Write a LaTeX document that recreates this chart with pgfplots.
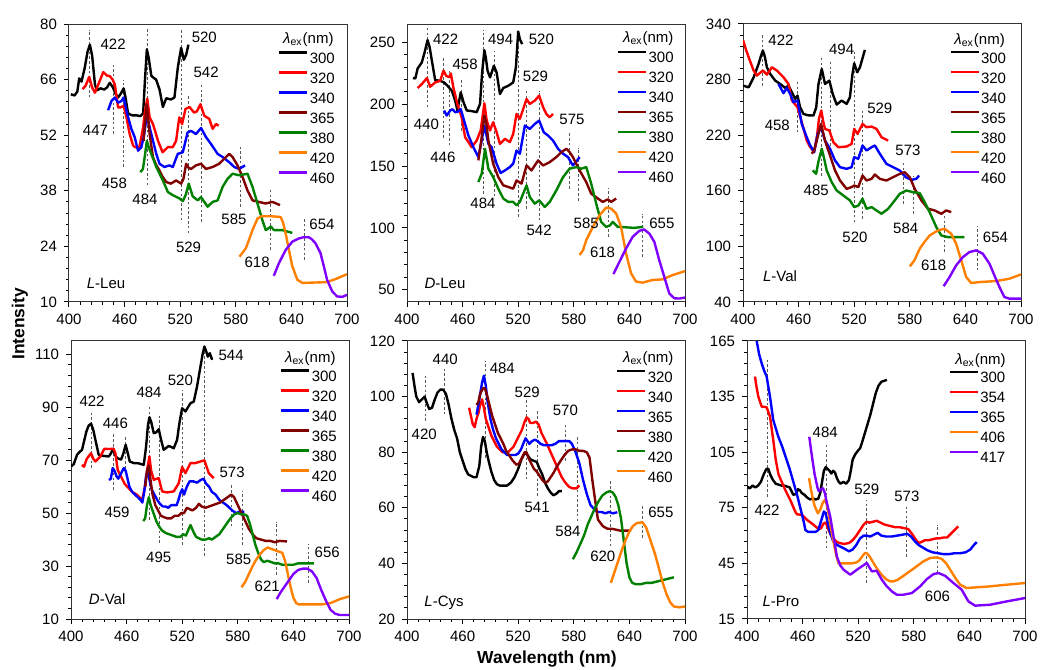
\documentclass[border=0pt]{standalone}
\usepackage{fontspec}
\setmainfont{Liberation Sans}
\usepackage{pgfplots}
\pgfplotsset{compat=1.18}

\definecolor{cred}{HTML}{FF0000}
\definecolor{cblue}{HTML}{0000FF}
\definecolor{cbrown}{HTML}{800000}
\definecolor{cgreen}{HTML}{008000}
\definecolor{corange}{HTML}{FF8000}
\definecolor{cpurple}{HTML}{8000FF}

\newcommand\fs{\fontsize{7.5}{9}\selectfont}

\pgfplotsset{
  panel/.style={
    scale only axis, width=139pt, height=139pt,
    xmin=400, xmax=700, xtick={400,460,...,700},
    minor x tick num=4, minor y tick num=4,
    tick align=outside, tick pos=left,
    major tick length=2.5pt, minor tick length=1.4pt,
    every tick/.style={black, line width=0.5pt},
    axis line style={black!80, line width=0.5pt},
    tick label style={font=\fs},
    /pgf/number format/assume math mode=true,
    /pgf/number format/1000 sep={},
    legend style={draw=none, fill=none, font=\fs, anchor=north east,
      inner sep=0pt, row sep=3.2pt, cells={anchor=west},
      nodes={inner sep=0.6pt, text height=5.6pt, text depth=0pt}},
    legend image code/.code={\draw[##1, line width=1.2pt] (0pt,2.8pt) -- (14pt,2.8pt);},
  },
  sp/.style={line width=1.2pt, line join=round},
  pk/.style={forget plot, gray!70!black, line width=0.45pt, dash pattern=on 1.3pt off 1.1pt},
}
\newcommand\pk[3]{\addplot[pk] coordinates {(#1,#2)(#1,#3)};}
\newcommand\lb[3]{\node[font=\fs, inner sep=0pt] at (axis cs:#1,#2) {#3};}
\newcommand\ttl[2]{\node[font=\fs, anchor=east, inner sep=0pt] at (rel axis cs:#1,#2) {\textit{λ}\textsubscript{ex}(nm)};}

\begin{document}
\begin{tikzpicture}
\useasboundingbox (0,0) rectangle (520pt,335pt);

% ---------------- L-Leu
\begin{axis}[panel, at={(34.5pt,184pt)}, anchor=south west,
  ymin=10, ymax=80, ytick={10,24,...,80}, legend style={at={(0.962,0.903)}}]
\pk{422.5}{61.5}{78.6}\pk{448}{52.3}{69.8}\pk{459}{44}{66}\pk{484.5}{39.4}{78.8}
\pk{521}{30.6}{78.8}\pk{529}{27.3}{61.9}\pk{542.5}{30.2}{64.8}\pk{585}{34}{49}
\pk{617.7}{23.1}{38.1}\pk{654}{20.6}{31.4}
\addplot[sp, black] coordinates {(402,62.3)(406,62)(409,63)(411,66.3)(413.5,65.5)(417,69)(420,73)(422.5,74.8)(425,72)(428,64.8)(430,63.3)(434,63.8)(438,63.5)(441,64)(444,65.2)(447.5,64)(450,62.5)(453,61.5)(456,62.5)(459,63.8)(461,61.5)(463.7,57.5)(468,57)(473,57)(477,56.8)(480,57.5)(482,66)(484,73.6)(486,71.5)(488.8,67)(491,66.5)(494,66)(497.7,63.5)(501.3,59.1)(504.9,61.3)(510,61)(513.8,61.5)(517.4,69)(521,74)(523.9,71)(526.4,72.2)(528.9,74.8)};
\addplot[sp, cred] coordinates {(414.7,63.6)(418,64.5)(421.8,66.7)(425,64)(428,62.7)(432,65)(437,67.9)(441,67)(444,66.9)(447,66)(449.4,64.8)(453,59)(455.5,59)(459,59.4)(462,56.5)(465.5,52.3)(469,49.5)(471,49)(476,49)(480,54)(482,58)(484.5,61.2)(487,56.5)(490.6,54.8)(493,53)(496,50.6)(501,47.7)(506.7,49)(512,49)(515.6,50.6)(519,56.5)(522,54.8)(525.7,58.6)(530,59.1)(535,57.7)(538,58)(541.8,59.8)(546,56.9)(551.4,56.1)(555,53.6)(558.6,54.8)(561.5,54.4)};
\addplot[sp, cblue] coordinates {(442.2,58.3)(445.8,60.6)(449.4,61.5)(453,60.2)(456.6,60.6)(459,61.5)(462,58.1)(467.3,53.6)(470.9,51.5)(474.5,48.1)(478,48.9)(481,52)(484,57)(486,55)(488.8,52.3)(494.2,47.3)(497.7,44.8)(503,44)(508.5,44.4)(512,44)(517.4,47.3)(522.8,47.7)(528,52.7)(531.7,53.1)(537,52.3)(542.5,53.8)(547.9,51.5)(553.2,49.8)(560.4,47.3)(565.8,46.5)(572.9,45.2)(578.3,44)(583.6,43.5)(590,44.4)};
\addplot[sp, cbrown] coordinates {(480.5,50.6)(482,55)(484,59.8)(487,52.3)(490.6,46.5)(494,44.5)(497.7,43.1)(501,41.5)(505,40.2)(510,39.8)(515.6,40.6)(521,39.8)(523.5,41)(526.4,44.8)(529,43.8)(531.7,43.5)(537,44.4)(542.5,44.8)(547.9,43.5)(555,44)(562,44.8)(569.4,46.5)(572.9,47.3)(576.5,46.5)(581.9,44.4)(587.2,41.5)(592.6,38.1)(598,35.6)(605,35.2)(612,34.8)(619.5,35.2)(627.7,34.4)};
\addplot[sp, cgreen] coordinates {(477,42.7)(479.8,43.5)(482,47)(484,50.6)(486,49)(488.8,47.3)(494.2,44)(501.3,40.6)(506.7,37.7)(512,36.9)(519,36.1)(522.8,35.4)(526,37)(529.2,39.8)(533.5,36.6)(538.9,35.6)(542.5,36.4)(549.6,34)(555,35.2)(560.4,35.6)(565.8,39)(571,41)(576.5,42.3)(583.6,41.9)(592.6,42.3)(598,39)(603.4,34.8)(608.7,30.6)(612.3,28.1)(615,28.5)(617.7,29)(621.2,28.1)(630.2,28.1)(641,27.4)};
\addplot[sp, corange] coordinates {(584,21.4)(590.8,23.5)(594,25.5)(598,28.1)(603.4,31)(608,31.6)(618,31.6)(628.4,31.4)(631,30)(633.8,27.3)(637,23.5)(641,19)(646.4,15.6)(652,14.8)(665,14.9)(678,15)(688,15.8)(700,17)};
\addplot[sp, cpurple] coordinates {(621,16.6)(626.6,19.8)(633.8,23.1)(641,25.2)(648,26)(653,26.3)(658.8,26.3)(662,25.8)(666,24.8)(671.4,22.3)(675,19)(678.5,15.6)(684,12.7)(689.3,11.4)(695,11.3)(700,11.8)};
\legend{300,320,340,365,380,420,460}
\lb{447.6}{75}{422}\lb{428.6}{53.1}{447}\lb{449}{40}{458}\lb{482}{35.8}{484}
\lb{546}{76.7}{520}\lb{529}{23.8}{529}\lb{548}{67.9}{542}\lb{578}{30.8}{585}
\lb{603}{20}{618}\lb{673}{29.5}{654}\lb{440}{14.8}{\textit{L}-Leu}
\ttl{0.953}{0.943}
\end{axis}

% ---------------- D-Leu
\begin{axis}[panel, at={(203.5pt,184pt)}, anchor=south west,
  ymin=40, ymax=265, ytick={50,100,...,250}, legend style={at={(0.965,0.906)}}]
\pk{422}{197.6}{261.6}\pk{439.4}{173}{238}\pk{446}{166.7}{228.5}\pk{458.4}{178.8}{220}
\pk{483}{127.7}{260}\pk{493.9}{125.5}{243}\pk{520}{108.9}{248.7}\pk{528.6}{115.6}{212}
\pk{542.6}{106}{211}\pk{574.8}{131.7}{177.4}\pk{584.8}{122}{165}\pk{617}{92.7}{132.5}
\pk{654.3}{76.6}{111.6}
\addplot[sp, black] coordinates {(406.4,221.2)(409,221)(411.5,229)(416,233.9)(419,242)(422.2,252)(424.5,246)(426.9,235)(430.4,219.6)(435.8,219)(440,217.7)(443.7,215)(448.4,211)(452,203)(454.4,195)(458,209.7)(461,201.6)(464.5,195)(470,194.5)(475.2,193.6)(478.8,200.3)(481,225)(483.5,243.8)(485,238)(487,227)(489.6,221.8)(493.8,231.2)(496.7,225.8)(500.3,208.3)(503.9,213.2)(509.3,215)(514.6,217.7)(517.5,229.8)(520,258.9)(521.8,252.7)(524.3,248.7)};
\addplot[sp, cred] coordinates {(411.5,213.2)(416,216.4)(421.5,221.2)(425,214.2)(430.4,217.7)(435.8,219)(439.4,227.2)(442.3,223)(445.8,222)(447.3,225)(450,213.7)(454.4,200.3)(459,189.5)(462.7,173.4)(466.3,169.4)(469.8,165.3)(475.2,170.7)(479.5,178.8)(483.5,200.8)(486,186.8)(489.6,178.8)(493,185.5)(496.7,177.4)(500.3,168)(505.7,172)(511,169.4)(514.6,176)(518.2,192.2)(521.8,188.2)(525.4,196.2)(529,204.3)(532.5,200.3)(537.9,203)(542.6,207)(546.9,197.6)(550.4,192.2)(554,189.5)(557.6,192.2)};
\addplot[sp, cblue] coordinates {(440,195)(442.9,190.9)(446.6,195)(449,196)(452,193.6)(455,194)(458,196.2)(461.6,186.8)(466.3,174.7)(471.6,165.3)(477,157.3)(480.6,170.7)(483.5,182.8)(487.8,168)(491.3,165.3)(496.7,151.9)(501,144.4)(505.7,146.5)(511,149.2)(514.6,151.9)(518.2,162.6)(521.8,160)(527.2,182.8)(532.5,180.1)(537.9,184.1)(542.6,186.8)(547.6,177.4)(552.2,174.7)(557.6,170.7)(563,164)(568.4,160)(573.7,157.3)(579,150.5)(583,154)(586.3,157.3)};
\addplot[sp, cbrown] coordinates {(477,154.6)(480,170)(483.5,190.9)(485.5,185)(487.8,170.7)(493,151.9)(498.5,141.1)(503.9,134.4)(509.3,133.1)(514.6,131.7)(518.2,138.4)(523.6,135.8)(529,150.5)(534.3,146.5)(541.5,154.6)(546.9,150.5)(554,153.2)(561.2,157.3)(566.6,161.3)(572,164)(575.5,161.3)(579,157.3)(586.3,146.5)(593.4,137.1)(598.8,127.7)(606,123.7)(611.3,121)(616.7,123.1)(620.3,121)(625.7,123.7)};
\addplot[sp, cgreen] coordinates {(477,137.1)(480.6,143.8)(484.2,164)(487.8,147.9)(493,141.1)(498.5,131.7)(503.9,123.7)(509.3,121)(514.6,121)(518.2,118.3)(521.8,121)(525,127)(529,134.4)(532.5,125)(537.9,119.6)(542.6,122.3)(548.7,116.9)(554,121)(561.2,130.4)(568.4,141.1)(575.5,147.9)(582.7,149.2)(588,147.9)(593.4,149.2)(598.8,135.8)(604.2,119.6)(609.5,104.8)(614.9,100.8)(619,102)(622,104.8)(627.5,100.8)(635,100.5)(645,100)(655,100.8)};
\addplot[sp, corange] coordinates {(586.3,78)(590,82)(593.4,90)(600.6,100.8)(607.8,110.2)(614.9,116.4)(620.3,115.6)(625.7,111.6)(631,100.8)(636.4,79.3)(641.8,63.2)(647.2,56.5)(654.3,55.7)(665,57.8)(675.8,58.3)(686.6,61.8)(700,65)};
\addplot[sp, cpurple] coordinates {(622.8,62.6)(629.3,72.6)(636.4,83.3)(643.6,92.8)(650.7,97.6)(656,98.7)(661.5,95.4)(666.9,88.7)(672.2,73.9)(677.6,60.5)(683,47)(688.4,43)(694,42.8)(700,43.6)};
\legend{300,320,340,365,380,420,460}
\lb{441.7}{252.7}{422}\lb{421}{184}{440}\lb{438.7}{157.3}{446}\lb{462.7}{232.5}{458}
\lb{482}{119.6}{484}\lb{501}{252.7}{494}\lb{545}{252.7}{520}\lb{538.6}{222.3}{529}
\lb{542.6}{97.6}{542}\lb{578}{188}{575}\lb{593.4}{104}{585}\lb{611}{80}{618}
\lb{675}{104}{655}\lb{441}{55}{\textit{D}-Leu}
\ttl{0.96}{0.948}
\end{axis}

% ---------------- L-Val
\begin{axis}[panel, at={(371.5pt,184pt)}, anchor=south west,
  ymin=40, ymax=340, ytick={40,100,...,340}, legend style={at={(0.952,0.905)}}]
\pk{421.5}{273.5}{329}\pk{458.8}{223}{277}\pk{485}{176.5}{306}\pk{494}{192.7}{298.7}
\pk{520}{126.2}{312}\pk{529}{129.8}{246.6}\pk{572.8}{146}{191}\pk{583.5}{135}{176.5}
\pk{617.5}{93.9}{135}\pk{653.4}{74}{121.5}
\addplot[sp, black] coordinates {(400,273.5)(406.1,271.7)(411.5,282.5)(416.8,296.9)(419.5,306)(421.5,311.3)(423.5,305)(425.8,293.3)(429.4,286.1)(434.8,278.9)(440.1,275.3)(445.5,271)(449.1,273.5)(452.7,266.3)(456.3,259.2)(458.8,262.7)(461.6,250.2)(465.2,243)(470,241.5)(476,241.2)(479,250)(481.4,275)(485,291.5)(488.5,275.3)(493.2,278.9)(496.8,264.5)(501.1,253)(506.4,257.4)(511.8,253.8)(515.4,261)(518,285)(520,297.6)(523.3,287.9)(526.2,293.3)(531.5,312)};
\addplot[sp, cred] coordinates {(400,322.8)(403,313)(406.1,304.1)(411.5,289.7)(415,284.3)(418,287)(421.5,289.7)(425.8,285.4)(431.2,293.3)(436.6,289.7)(443.7,282.5)(449.1,275.3)(452.7,257.4)(458.8,250.2)(463.4,234)(468.8,214.2)(472,208)(476.7,201.7)(480,220)(482,238)(484.5,246.6)(486.5,235)(488.5,226.8)(493.2,225)(497.5,212.4)(502.9,207)(511.8,207.8)(517.2,210.6)(520,226.8)(523.6,221.4)(529,232.2)(533.3,228.6)(538.7,229.3)(544,226.8)(549.5,217.8)(556.6,214.2)};
\addplot[sp, cblue] coordinates {(438.3,275.3)(443.7,265.3)(447.3,271)(450.9,264.5)(454.5,255.6)(458.8,257.4)(463.4,232.2)(468.8,217.8)(472,210)(476.7,201.7)(480.6,221.4)(484.2,228.6)(488.5,214.2)(493.9,205.3)(499.3,192.7)(504.7,185.5)(511.8,183.7)(517.2,185.5)(520,196.3)(524.4,194.5)(529,208.9)(533.3,203.5)(538.7,207)(542.3,208.9)(547.7,199.9)(554.8,189.1)(562,185.5)(569.2,181.9)(575.6,174.7)(581.7,171.8)(587,172.9)(590,176.5)};
\addplot[sp, cbrown] coordinates {(474.2,200)(477,204)(479.6,214.2)(484.2,232.2)(488.5,214.2)(493.9,198.1)(499.3,182)(504.7,171.1)(511.8,162.1)(517.2,164)(520,165.7)(524.4,164)(529,176.5)(533.3,171.1)(538.7,172.9)(542.3,177.6)(547.7,172.9)(554.8,171.1)(562,174.7)(569.2,178.3)(574.5,180.1)(579.9,174.7)(585.3,162.1)(592.5,149.6)(599.6,140.6)(606.8,138.8)(614,135.2)(619.3,138.8)(624.7,137)};
\addplot[sp, cgreen] coordinates {(475.3,182)(478.9,178.3)(481.5,192)(485,205.3)(487.5,195)(490.3,182)(495.7,169.3)(501.1,160.3)(508.2,155)(515.4,149.6)(520,142.4)(524.4,144)(529,151.4)(533.3,140.6)(538.7,142.4)(544,138.8)(549.5,135.2)(556.6,140.6)(563.8,149.6)(569.2,156.8)(576.3,160.3)(583.5,158.5)(590.7,157.5)(596,147.8)(601.4,137)(608.6,120.8)(614,111.8)(621.1,110)(630,110)(639,110)};
\addplot[sp, corange] coordinates {(580,78.4)(585,85)(590.7,97.5)(596,105)(601.4,111.8)(610.4,117.2)(617.5,119)(624.7,113.6)(630,102.9)(635.5,85)(640.8,67)(646.2,60.5)(655.2,61.5)(673.1,62.6)(687.5,65.1)(700,69.8)};
\addplot[sp, cpurple] coordinates {(616.5,57)(622.9,66.9)(630,79.5)(637.3,88.5)(644.4,93.9)(651.6,95.7)(658.8,92.1)(666,81.3)(671.3,68.7)(676.7,56.2)(682,45.4)(687.4,43.6)(700,43.6)};
\legend{300,320,340,365,380,420,460}
\lb{441}{322.8}{422}\lb{437}{230.4}{458}\lb{479}{160.3}{485}\lb{506.4}{312.3}{494}
\lb{520.8}{110}{520}\lb{547.6}{249.5}{529}\lb{578}{204.2}{573}\lb{575.6}{119}{584}
\lb{605.7}{80}{618}\lb{672.4}{110}{654}\lb{440}{67.7}{\textit{L}-Val}
\ttl{0.943}{0.942}
\end{axis}

% ---------------- D-Val
\begin{axis}[panel, at={(35.5pt,25.5pt)}, anchor=south west,
  ymin=10, ymax=115, ytick={10,30,...,110}, legend style={at={(0.962,0.9)}}]
\pk{421.6}{67}{88.4}\pk{445.4}{58.8}{80.2}\pk{459}{65}{79}\pk{484.2}{47.5}{90.9}
\pk{495}{38.7}{86.5}\pk{520}{38}{96.5}\pk{544.4}{33.9}{111}\pk{572.8}{45}{61.3}
\pk{585.4}{38}{58.2}\pk{622}{26.7}{46.8}\pk{656.7}{23.6}{38.4}
\addplot[sp, black] coordinates {(400,67.6)(403,68.5)(406.5,72)(409,73)(411.9,73.9)(414,77)(416.6,80.8)(419,83)(421.6,83.8)(424,81.5)(426.3,77.7)(429.9,72)(435.3,71.6)(440.7,71.4)(443,72.5)(445.4,74.3)(447.5,72)(449.7,70.8)(454,70.2)(456.5,72.5)(459,75.8)(461,73)(463.4,69.5)(467.7,68.9)(473,68.8)(478.5,68.2)(481,75)(483,83)(484.6,86.2)(486.5,84.5)(489.3,80.2)(492,80.5)(494.7,81.7)(497,78)(500,73.9)(505.5,75.4)(510.9,74.5)(514.5,77.7)(517,84)(519.9,89.6)(523.5,88.4)(528.9,91.5)(532.5,92.1)(536,97.8)(539.7,105.3)(542,110)(544,112.9)(546,111)(547.6,109.1)(549.8,110.4)(552.3,107.9)};
\addplot[sp, cred] coordinates {(411.9,68.2)(414,67.5)(417,70.5)(421.6,72.6)(424,70.5)(426.3,69.5)(431.7,71.4)(436,74.3)(440.7,74.2)(446,74.3)(448,72.5)(450.4,66.3)(454,63.8)(458,61)(462,59.5)(466,58)(471.3,56.9)(476.7,55)(480,60)(482.5,67)(484.6,71.4)(486.5,66)(489.3,62.6)(494.7,63.2)(498.3,58.2)(503.7,57.8)(510.9,58.2)(516.3,61.3)(519.9,67.4)(523.5,65.1)(528.9,68.9)(534.3,68.9)(539.7,69.5)(544,69.9)(548.7,65.1)(554,63.2)};
\addplot[sp, cblue] coordinates {(441,62.5)(443,63)(445,67)(447,66)(449,64)(451,63)(454,65)(457,67)(459,66)(461,63)(463,60)(466,58)(469,57)(472,56)(475,55)(477,54)(479,58)(481,64)(483,66)(485,62)(487,59)(490,57)(493,55)(496,53.5)(499,52.5)(502,52.5)(505,52)(508,53)(511,53)(514,53)(516,55)(518,57.5)(520,59)(522,57)(525,60)(528,62)(532,62)(536,61.5)(540,62.5)(543,63)(546,61)(549,60)(552,58)(556,57)(560,55)(564,54)(568,53)(571,52)(574,51)(578,50)(582,50.5)(587,50.5)};
\addplot[sp, cbrown] coordinates {(480,60)(482,66)(484,68)(486,62)(488,57)(491,53)(494,51)(497,49)(500,48.5)(504,48)(508,48)(512,49)(516,49)(519,50)(522,50)(525,52)(528,51.5)(531,51)(535,52)(538,53.5)(541,52.5)(545,52)(549,52.5)(553,53)(557,53.5)(561,54)(565,55)(569,56)(573,57)(576,56)(580,53)(584,50)(588,47)(592,44)(596,42)(600,40.5)(605,40)(610,39.5)(615,39.5)(620,39)(625,39.5)(633,39.3)};
\addplot[sp, cgreen] coordinates {(478,47)(480,48)(482,53)(484,56)(486,53)(489,50)(492,47)(495,45)(498,43.5)(502,42.5)(506,42)(510,41.5)(514,41)(518,41)(521,42)(524,41.5)(527,44)(529,45.5)(532,43)(535,41)(538,40.5)(541,40)(545,40)(549,40.5)(552,40)(556,41)(560,42)(564,44)(568,46)(572,48)(576,49.5)(580,50)(584,49.5)(587,49.5)(590,49)(593,46)(596,42)(599,38)(602,35)(605,32.5)(608,31.5)(612,32)(616,31.5)(620,31)(624,31)(628,30.5)(632,30.5)(636,30.5)(640,30.5)(645,31)(650,31)(656,31)(662,31)};
\addplot[sp, corange] coordinates {(584,22)(588,24)(592,27)(596,30)(600,32.5)(604,34.5)(608,36)(612,37)(616,36.5)(620,36)(624,35.5)(628,35)(631,32)(634,27)(637,22)(640,18)(643,16)(646,15.5)(650,15.5)(660,15.5)(670,15.5)(680,16)(690,17.5)(700,18.5)};
\addplot[sp, cpurple] coordinates {(622,17.5)(626,20)(630,22)(635,24.5)(640,27)(645,28.5)(650,29)(655,29)(660,28)(665,25.5)(670,21)(675,17)(680,13.5)(685,12)(690,11.5)(700,11.5)};
\legend{300,320,340,365,380,420,460}
\lb{422.7}{92.4}{422}\lb{447.9}{84}{446}\lb{449.7}{50.2}{459}\lb{484.2}{95.5}{484}
\lb{494.7}{33.3}{495}\lb{518}{100.3}{520}\lb{572.8}{109.4}{544}\lb{573.9}{65.3}{573}
\lb{581}{32.4}{585}\lb{611.7}{22.3}{621}\lb{676.5}{35.2}{656}\lb{439}{17.5}{\textit{D}-Val}
\ttl{0.953}{0.9375}
\end{axis}

% ---------------- L-Cys
\begin{axis}[panel, at={(203.5pt,25.5pt)}, anchor=south west,
  ymin=20, ymax=120, ytick={20,40,...,120}, legend style={at={(0.962,0.897)}}]
\pk{419.7}{91.2}{107.4}\pk{440}{93.6}{109.8}\pk{484.9}{78}{112.8}\pk{528.6}{70.2}{99}
\pk{540.4}{64.4}{95.4}\pk{570.9}{76.8}{90.6}\pk{583.4}{55.2}{86}\pk{619.2}{46.2}{70.2}
\pk{654.3}{49.2}{61.2}
\addplot[sp, black] coordinates {(406,108.5)(408,104)(410,100)(413,98)(416,99)(419,100)(421,98)(424,95.5)(427,96)(430,99)(433,101.5)(436,102.5)(439,102.5)(442,101)(445,97)(448,92)(451,88)(454,85)(457,80)(460,77)(463,74)(466,72)(469,71.5)(472,71)(475,71)(478,75)(480,82)(482,85.5)(484,84)(486,80)(488,77)(491,73)(494,70)(497,68.5)(500,68)(504,68)(508,68)(512,69)(516,71)(520,74)(523,77)(526,79)(528,80)(530,79)(533,77.5)(536,77)(540,76.5)(543,74)(546,72)(549,69)(552,67)(555,65.5)(558,64.5)(561,65)(564,66)(567,66)};
\addplot[sp, cred] coordinates {(467,96)(469,93)(471,90)(473,89)(475,92)(477,94)(479,97)(481,99)(483,96)(485,92)(488,89)(491,86)(494,84)(497,82)(500,81)(503,80)(506,80)(509,80)(512,81)(515,82)(518,84)(521,86)(524,88)(527,91)(529,92.5)(531,92)(533,90.5)(536,90.5)(539,91)(542,90)(545,87)(548,85)(551,83)(555,80)(559,77)(563,74)(567,71)(571,69)(575,67.5)(579,67)(583,67)(586,68)};
\addplot[sp, cblue] coordinates {(475,93.5)(477,97)(479,101)(481,105)(483,107.5)(485,104)(487,98)(490,92)(493,88)(496,85)(499,83)(502,81)(505,80)(508,79)(511,79)(514,79)(517,79)(520,79.5)(523,81)(526,83.5)(528,85)(530,84)(532,83)(535,84)(538,84.5)(541,84)(544,83)(548,82.5)(552,82.5)(556,82.5)(560,83)(564,84)(568,84)(572,84)(575,84)(578,83)(582,80)(586,76)(590,70)(594,65)(598,61)(602,59.5)(606,58.5)(610,58.5)(614,58)(618,58.5)(622,58)(627,58.4)};
\addplot[sp, cbrown] coordinates {(475,97)(477,98)(479,101)(482,103)(484,103)(486,101)(489,97)(492,93)(495,90)(498,87)(501,85)(504,83)(507,80.5)(510,79)(514,77)(518,75.5)(521,76)(524,78)(527,80)(529,80)(531,78)(534,76)(537,74)(540,73)(543,71.5)(546,70)(549,69)(552,69.5)(555,71)(558,72.5)(562,75)(566,77)(570,79)(574,80.5)(578,81)(582,81)(586,80.5)(590,80.5)(594,80)(597,78)(600,70)(602.4,64.2)(606,55.8)(611.3,53.4)(616,52.5)(622,52.4)(630,51.8)(641.8,51.8)};
\addplot[sp, cgreen] coordinates {(579,41.5)(583,44)(587,47)(591,50)(595,54)(599,57)(603,60)(607,62.5)(611,64.5)(615,65.5)(619,66)(622,65.5)(625,64)(628,61)(631,56)(634,48)(637,40)(640,35)(643,33)(647,32.5)(652,32.5)(658,33)(664,33)(670,33.5)(676,34)(682,34.5)(688,35)};
\addplot[sp, corange] coordinates {(620,33)(624,37)(628,41)(632,45)(636,48.5)(640,51.5)(644,53.5)(648,54.5)(654,54.8)(658,53)(661,50)(664,47)(668,43)(672,38)(676,33)(680,29)(684,26)(688,24.5)(694,24.2)(700,24.5)};
\legend{320,340,365,380,420,460}
\lb{418.6}{86.3}{420}\lb{441.2}{113.4}{440}\lb{502.8}{110}{484}\lb{529.7}{101.6}{529}
\lb{540.4}{60}{541}\lb{570.9}{95.2}{570}\lb{573.7}{51.6}{584}\lb{611.3}{42.6}{620}
\lb{674}{58.2}{655}\lb{440}{26}{\textit{L}-Cys}
\ttl{0.96}{0.9375}
\end{axis}

% ---------------- L-Pro
\begin{axis}[panel, at={(373.5pt,25.5pt)}, anchor=south west,
  ymin=15, ymax=165, ytick={15,45,...,165}, legend style={at={(0.935,0.895)}}]
\pk{422.3}{81}{155.5}\pk{485.5}{53.2}{108.8}\pk{529.3}{34.4}{79.2}\pk{572.5}{48.7}{75.7}
\pk{605.5}{39.8}{65.8}
\addplot[sp, black] coordinates {(400,86.5)(403,85.5)(406,87)(409,86)(412,87)(415,89)(418,93)(421,96)(423,96)(425,93)(428,90)(431,88)(434,87.5)(437,87)(440,87)(443,86.5)(446,86)(448,84)(450,82)(453,82.5)(455,85)(457,84.5)(459,83)(462,82)(465,80.5)(468,79.5)(471,80)(474,79.5)(477,80)(479,83)(481,89)(483,95)(485,97)(487,96)(489,95)(491,93.5)(493,95)(495,94)(497,91)(499,89)(501,88)(504,89)(507,88)(510,90)(512,95)(514,101)(517,104)(520,106)(522,107)(524,110)(527,115)(530,120)(533,125)(536,131)(539,137)(542,141)(545,143)(551,144)};
\addplot[sp, cred] coordinates {(408.6,145.8)(410,141)(412.2,135)(415.8,129.6)(419,129.5)(421.2,129.2)(424.8,124.2)(428.3,111.7)(431,101)(434,93)(441.3,84.6)(446.7,79.2)(452,73)(453.9,71.5)(459.3,71.2)(464.7,68.5)(471.9,65.8)(477.2,63.5)(480,64)(482.5,66.5)(485,67)(488,63)(491,60)(494,58)(497,56.5)(500,56)(505,55.5)(510,56)(514,57.5)(518,60)(522,63)(526,66)(529,67.5)(532,67)(536,67.5)(540,68)(544,67)(548,66)(552,65.5)(556,65)(560,64.5)(565,64.5)(570,64)(574,63.5)(578,61)(582,58)(585,56)(588,56.5)(592,57.5)(596,57.5)(600,58)(604,58.5)(608,58.5)(612,59)(616,59)(620,61)(624,63)(628,65)};
\addplot[sp, cblue] coordinates {(410.5,165)(413,158)(415.8,153)(418.5,149)(421.2,145.8)(424.8,135)(428.3,122.4)(433.7,113.5)(438,108)(442,102)(446,96)(450,89)(454,82)(458,74)(461,68)(463,63)(466,62)(470,62)(474,62)(477,63)(480,68)(483,73)(485,72)(487,67)(490,61)(493,57)(497,55)(501,54)(505,53)(510,51.5)(514,52.5)(518,55)(522,58.5)(526,60)(529,60)(533,59.5)(537,60.5)(541,61.5)(545,60)(550,59.5)(556,59.5)(562,60)(568,60.5)(573,61)(577,59.5)(581,57)(585,55)(590,53.5)(595,52)(600,51)(606,50.5)(612,50)(618,50)(624,50.5)(630,50.5)(636,51)(641,52.5)(645,55)(648,56.5)};
\addplot[sp, corange] coordinates {(467,91)(469,85)(471,80)(473,76)(476.5,72)(479,74)(482,78)(484,79.2)(486,77)(488,72)(490,66)(492,60)(494,55)(496,50)(498.8,45)(503,45)(508,45)(513,45)(518,45.5)(521,46.5)(524,48.5)(527,50.5)(529,50.6)(532,49)(535,46.5)(538,44)(542,41)(546,38.5)(550,36.5)(554.5,35.3)(558,35.3)(562,36)(568,38)(575,40.5)(582,43)(590,46)(598,48)(604.8,48.2)(610,47.5)(615,45)(620,41)(625,37)(630,33.5)(637,31.7)(645,32)(660,32.5)(680,33.5)(700,34.4)};
\addplot[sp, cpurple] coordinates {(467.2,113.3)(470,103)(473,93)(476,86)(477.5,84)(480,85)(482,85.5)(484,83)(486,78)(489.8,70.3)(493.4,59.5)(497,48.7)(500.5,44)(504.2,41.6)(511.4,38.9)(518.6,41.6)(524,43.4)(529.3,45.2)(534.7,40.7)(540,41)(545.5,36.2)(550.9,32.6)(556.3,29.9)(561.7,28.1)(568.9,28.1)(577.9,29)(586.8,32.6)(594,36.5)(601.2,39.2)(606.6,39.8)(613.8,38.3)(622.8,34.4)(631.7,30.8)(638.9,24.5)(646.1,22.2)(662.3,22.7)(680.3,24.5)(700,26.3)};
\legend{300,354,365,406,417}
\lb{421.6}{73.9}{422}\lb{484.4}{115.5}{484}\lb{529.3}{85}{529}\lb{572.5}{81.4}{573}
\lb{605.5}{27.2}{606}\lb{436.6}{24.5}{\textit{L}-Pro}
\ttl{0.932}{0.928}
\end{axis}

\node[rotate=90, font=\fontsize{8.7}{10}\selectfont\bfseries] at (10pt,173pt) {Intensity};
\node[font=\fontsize{8.7}{10}\selectfont\bfseries] at (273.5pt,5.5pt) {Wavelength (nm)};
\end{tikzpicture}
\end{document}
